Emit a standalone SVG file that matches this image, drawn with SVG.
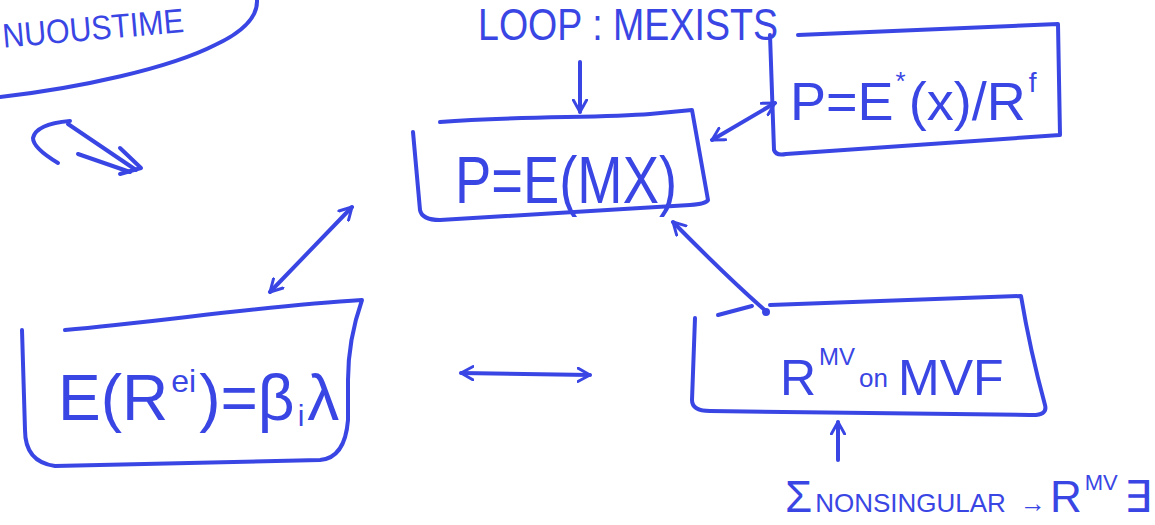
<svg xmlns="http://www.w3.org/2000/svg" width="1155" height="525" viewBox="0 0 1155 525">
<defs>
<style>
.ink{fill:none;stroke:#3a46e4;stroke-width:4;stroke-linecap:round;stroke-linejoin:round}
.t{fill:#3a46e4;font-family:"Liberation Sans",Arial,sans-serif}
</style>
<marker id="ah" viewBox="0 0 12 12" refX="10" refY="6" markerWidth="4" markerHeight="4" orient="auto-start-reverse" markerUnits="strokeWidth">
<path d="M1,1 L10,6 L1,11" fill="none" stroke="#3a46e4" stroke-width="2.2" stroke-linecap="round" stroke-linejoin="round"/>
</marker>
</defs>
<rect width="1155" height="525" fill="#ffffff"/>

<g id="node-continuous-time">
<path class="ink" d="M0,97 C80,88 170,68 215,45 Q258,25 257,0"/>
<text class="t" x="2" y="40" font-size="34" textLength="182" lengthAdjust="spacingAndGlyphs" transform="rotate(-5 92 28)">NUOUSTIME</text>
</g>

<g id="node-hook">
<path class="ink" d="M58,163 Q33,148 33,138 Q36,124 70,121"/>
<path class="ink" d="M68,124 L136,170"/>
<path class="ink" d="M78,154 L130,172"/>
<path class="ink" d="M120,148 L141,168 L120,174"/>
</g>

<g id="node-loop">
<text class="t" x="478" y="40" font-size="44" textLength="300" lengthAdjust="spacingAndGlyphs">LOOP : MEXISTS</text>
</g>

<g id="node-pemx">
<path class="ink" d="M440,122 C520,116 600,118 650,114 L692,110 L708,200 Q706,204 690,205 L440,220 Q422,220 420,210 L413,132"/>
<text class="t" x="455" y="203" font-size="66" textLength="222" lengthAdjust="spacingAndGlyphs">P=E(MX)</text>
</g>

<g id="node-price-rf">
<path class="ink" d="M770,35 L774,150 Q776,156 786,154 L1060,135 L1058,24 L798,35"/>
<text class="t" x="790" y="120" font-size="54">P=E<tspan font-size="26" dx="2" dy="-30">*</tspan><tspan dx="3" dy="30">(x)/R</tspan><tspan font-size="28" dx="3" dy="-28">f</tspan></text>
</g>

<g id="node-beta">
<path class="ink" d="M65,330 C160,322 260,306 362,300 Q348,340 348,380 L348,420 Q345,458 320,460 L55,466 Q25,462 25,430 L22,330"/>
<text class="t" x="58" y="420" font-size="64">E(R<tspan font-size="32" dx="3" dy="-28">ei</tspan><tspan dx="3" dy="28">)=β</tspan><tspan font-size="30" dx="3" dy="6">i</tspan><tspan dx="3" dy="-6">λ</tspan></text>
</g>

<g id="node-rmv">
<path class="ink" d="M718,315 L752,306"/>
<path class="ink" d="M770,305 C860,302 950,299 1021,296 Q1030,350 1045,405 Q1048,416 1030,415 L710,411 Q692,411 692,400 L695,318"/>
<text class="t" x="780" y="395" font-size="50">R<tspan font-size="24" dx="3" dy="-30">MV</tspan><tspan font-size="26" dx="4" dy="22">on</tspan><tspan dx="10" dy="8">MVF</tspan></text>
</g>

<g id="node-sigma">
<text class="t" x="785" y="512" font-size="44">Σ<tspan font-size="26" dx="3">NONSINGULAR</tspan><tspan font-size="26" dx="14">→</tspan><tspan dx="4">R</tspan><tspan font-size="22" dx="3" dy="-22">MV</tspan><tspan dx="6" dy="22">∃</tspan></text>
</g>

<g id="connectors">
<path class="ink" d="M580,62 L580,112" marker-end="url(#ah)"/>
<path class="ink" d="M712,140 L775,103" marker-start="url(#ah)" marker-end="url(#ah)"/>
<path class="ink" d="M270,292 L352,207" marker-start="url(#ah)" marker-end="url(#ah)"/>
<path class="ink" d="M767,312 Q730,280 673,222" marker-end="url(#ah)"/>
<circle cx="766" cy="312" r="4" fill="#3a46e4"/>
<path class="ink" d="M461,373 L590,375" marker-start="url(#ah)" marker-end="url(#ah)"/>
<path class="ink" d="M838,460 L838,422" marker-end="url(#ah)"/>
</g>
</svg>
